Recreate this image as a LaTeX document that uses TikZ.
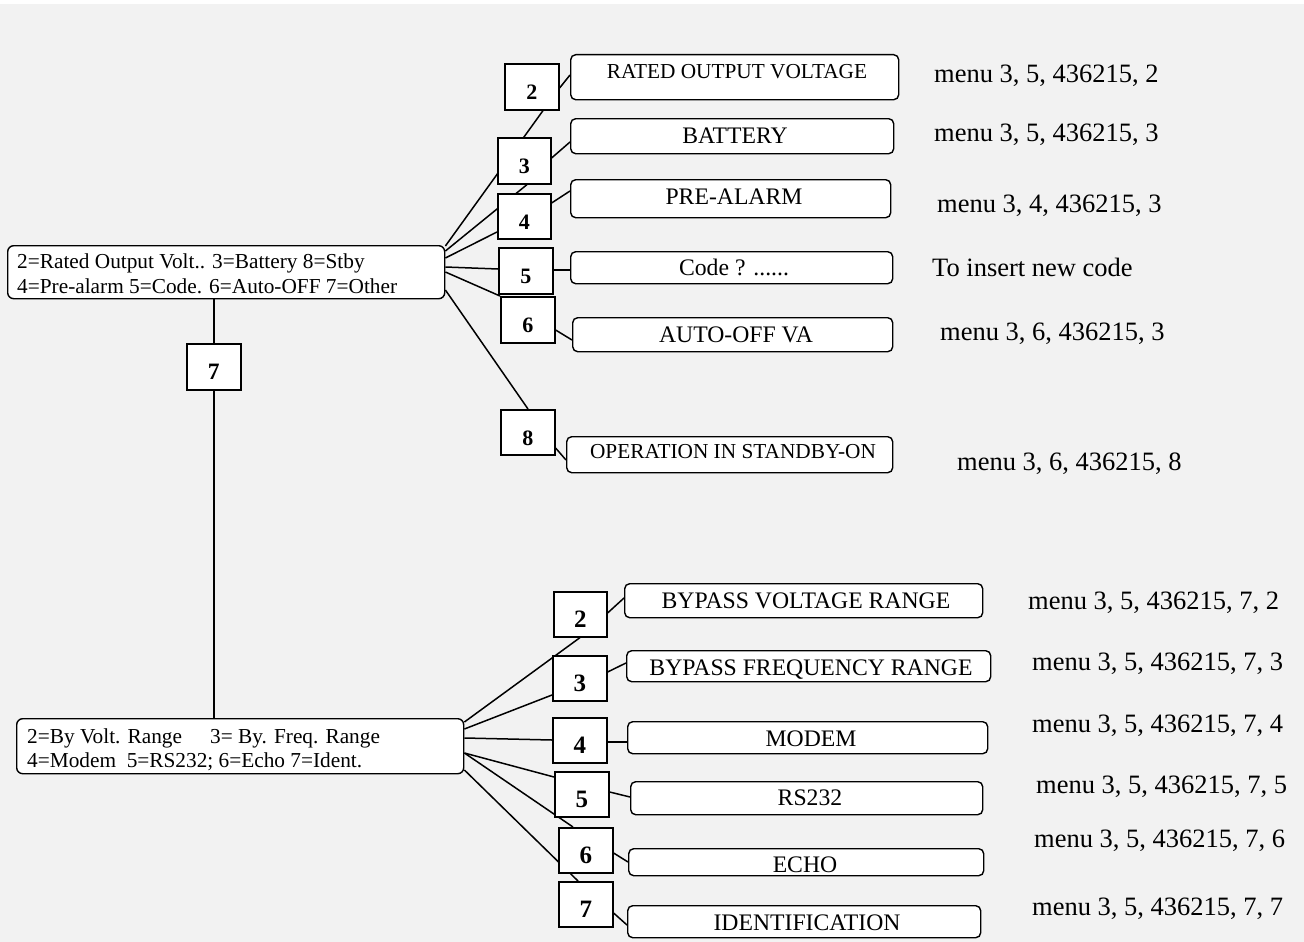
\documentclass[tikz,border=0pt]{standalone}
\usepackage{fontspec}
\setmainfont{Liberation Serif}
\pgfdeclarelayer{back}
\pgfdeclarelayer{bg}
\pgfsetlayers{back,bg,main}
\definecolor{bgc}{HTML}{F2F2F2}
\tikzset{
  numbox/.style={draw, line width=1.6pt, fill=white, rectangle, inner sep=0pt, anchor=north west,
    minimum width=54pt, minimum height=46pt, text height=25.5pt, text depth=0pt,
    font=\bfseries\fontsize{22pt}{24pt}\selectfont},
  numboxb/.style={numbox, font=\bfseries\fontsize{25pt}{27pt}\selectfont},
  lbox/.style={draw, line width=1.4pt, fill=white, rounded corners=5pt, inner sep=0pt, anchor=north west},
  mbox/.style={draw, line width=1.4pt, fill=white, rounded corners=6pt, inner sep=0pt, anchor=north west},
  labs/.style={anchor=base, inner sep=0pt, font=\fontsize{21.3pt}{24pt}\selectfont},
  labl/.style={anchor=base, inner sep=0pt, font=\fontsize{23.7pt}{26pt}\selectfont},
  mtxt/.style={anchor=base west, inner sep=0pt, font=\fontsize{21.3pt}{24pt}\selectfont},
  rtxt/.style={anchor=base west, inner sep=0pt, font=\fontsize{26.5pt}{29pt}\selectfont},
  conn/.style={line width=1.5pt}
}
\begin{document}
\begin{tikzpicture}[x=1pt,y=-1pt]
\useasboundingbox (0,0) rectangle (1304,942);
\begin{pgfonlayer}{back}
\fill[bgc] (0,0) rectangle (1304,942);
\fill[white] (0,0) rectangle (1304,4);
\end{pgfonlayer}

% ---------- top main box ----------
\node[mbox, minimum width=437pt, minimum height=53pt] (m1) at (7,245) {};
\node[mtxt] (m1a) at (17,268) {2=Rated Output Volt.. 3=Battery 8=Stby};
\node[mtxt] (m1b) at (17,293) {4=Pre-alarm 5=Code. 6=Auto-OFF 7=Other};

\node[numbox, font=\bfseries\fontsize{23.5pt}{26pt}\selectfont] (n7) at (186,343) {7};

% top number boxes
\node[numbox] (n2) at (504,63) {2};
\node[numbox, minimum width=53pt] (n3) at (497,137) {3};
\node[numbox, minimum width=53pt, minimum height=45pt] (n4) at (497,193) {4};
\node[numbox] (n5) at (498,247) {5};
\node[numbox] (n6) at (500,296) {6};
\node[numbox, minimum height=45pt] (n8) at (500,409) {8};

% top label boxes
\node[lbox, minimum width=328pt, minimum height=45pt] (rov) at (570,54) {};
\node[labs] (rovt) at (737,78) {RATED OUTPUT VOLTAGE};
\node[lbox, minimum width=323pt, minimum height=35pt] (bat) at (570,118) {};
\node[labl] (batt) at (735,143) {BATTERY};
\node[lbox, minimum width=320pt, minimum height=38pt] (pre) at (570,179) {};
\node[labl] (pret) at (734,204) {PRE-ALARM};
\node[lbox, minimum width=322pt, minimum height=32pt] (code) at (570,251) {};
\node[labl] (codet) at (734,275) {Code ? ......};
\node[lbox, minimum width=320pt, minimum height=34pt] (auto) at (572,317) {};
\node[labl] (autot) at (736,342) {AUTO-OFF VA};
\node[lbox, minimum width=326pt, minimum height=36pt] (op) at (566,436) {};
\node[labs] (opt) at (733,458) {OPERATION IN STANDBY-ON};

% top right texts
\node[rtxt] (r1) at (934,83) {menu 3, 5, 436215, 2};
\node[rtxt] (r2) at (934,141) {menu 3, 5, 436215, 3};
\node[rtxt] (r3) at (937,212) {menu 3, 4, 436215, 3};
\node[rtxt] (r4) at (932,276) {To insert new code};
\node[rtxt] (r5) at (940,340) {menu 3, 6, 436215, 3};
\node[rtxt] (r6) at (957,470) {menu 3, 6, 436215, 8};

% ---------- bottom main box ----------
\node[mbox, minimum width=447pt, minimum height=55pt] (m2) at (16,718) {};
\node[mtxt] (m2a) at (27,743) {\makebox[183pt][l]{2=By Volt. Range}3= By. Freq. Range};
\node[mtxt] (m2b) at (27,767) {4=Modem\ \ 5=RS232; 6=Echo 7=Ident.};

% bottom number boxes
\node[numboxb, minimum width=53pt, minimum height=45pt] (q2) at (553,591) {2};
\node[numboxb, minimum height=45pt] (q3) at (552,655) {3};
\node[numboxb, minimum height=45pt] (q4) at (552,717) {4};
\node[numboxb, minimum height=45pt] (q5) at (554,771) {5};
\node[numboxb, minimum height=45pt] (q6) at (558,827) {6};
\node[numboxb, minimum height=45pt] (q7) at (558,881) {7};

% bottom label boxes
\node[lbox, minimum width=358pt, minimum height=34pt] (bvr) at (624,583) {};
\node[labl] (bvrt) at (806,608) {BYPASS VOLTAGE RANGE};
\node[lbox, minimum width=364pt, minimum height=31pt] (bfr) at (626,650) {};
\node[labl] (bfrt) at (811,675) {BYPASS FREQUENCY RANGE};
\node[lbox, minimum width=360pt, minimum height=32pt] (modem) at (627,721) {};
\node[labl] (modemt) at (811,746) {MODEM};
\node[lbox, minimum width=352pt, minimum height=33pt] (rs) at (630,781) {};
\node[labl] (rst) at (810,805) {RS232};
\node[lbox, minimum width=355pt, minimum height=27pt] (echo) at (628,848) {};
\node[labl] (echot) at (805,872) {ECHO};
\node[lbox, minimum width=353pt, minimum height=32pt] (ident) at (627,905) {};
\node[labl] (identt) at (807,930) {IDENTIFICATION};

% bottom right texts
\node[rtxt] (s1) at (1028,609) {menu 3, 5, 436215, 7, 2};
\node[rtxt] (s2) at (1032,670) {menu 3, 5, 436215, 7, 3};
\node[rtxt] (s3) at (1032,732) {menu 3, 5, 436215, 7, 4};
\node[rtxt] (s4) at (1036,793) {menu 3, 5, 436215, 7, 5};
\node[rtxt] (s5) at (1034,847) {menu 3, 5, 436215, 7, 6};
\node[rtxt] (s6) at (1032,915) {menu 3, 5, 436215, 7, 7};

% ---------- connectors (behind boxes) ----------
\begin{pgfonlayer}{bg}
\draw[conn] (m1.south -| n7.north) -- (n7.north);
\draw[conn] (n7.south) -- (m2.north -| n7.south);

\draw[conn] (m1.east |- 0,246) -- (n2.south -| 543,0);
\draw[conn] (m1.east |- 0,251) -- (n3.south -| 527,0);
\draw[conn] (m1.east |- 0,258) -- (n4.west |- 0,232);
\draw[conn] (m1.east |- 0,267) -- (n5.west |- 0,269);
\draw[conn] (m1.east |- 0,272) -- (n6.north west);
\draw[conn] (m1.east |- 0,290) -- (n8.north -| 528,0);

\draw[conn] (n2.east |- 0,88) -- (rov.west |- 0,75);
\draw[conn] (n3.east |- 0,158) -- (bat.west |- 0,142);
\draw[conn] (n4.east |- 0,203) -- (pre.west |- 0,191);
\draw[conn] (n5.east |- 0,270) -- (code.west |- 0,270);
\draw[conn] (n6.east |- 0,330) -- (auto.west |- 0,340);
\draw[conn] (n8.east |- 0,448) -- (op.west |- 0,460);

\draw[conn] (m2.east |- 0,722) -- (q2.south -| 580,0);
\draw[conn] (m2.east |- 0,729) -- (q3.west |- 0,695);
\draw[conn] (m2.east |- 0,738) -- (q4.west |- 0,740);
\draw[conn] (m2.east |- 0,753) -- (q5.west |- 0,777);
\draw[conn] (m2.east |- 0,753) -- (q6.north -| 573,0);
\draw[conn] (m2.east |- 0,770) -- (q7.north -| 578,0);

\draw[conn] (q2.east |- 0,613) -- (bvr.west |- 0,598);
\draw[conn] (q3.east |- 0,672) -- (bfr.west |- 0,663);
\draw[conn] (q4.east |- 0,742) -- (modem.west |- 0,742);
\draw[conn] (q5.east |- 0,792) -- (rs.west |- 0,797);
\draw[conn] (q6.east |- 0,853) -- (echo.west |- 0,862);
\draw[conn] (q7.east |- 0,913) -- (ident.west |- 0,925);
\end{pgfonlayer}
\end{tikzpicture}
\end{document}
